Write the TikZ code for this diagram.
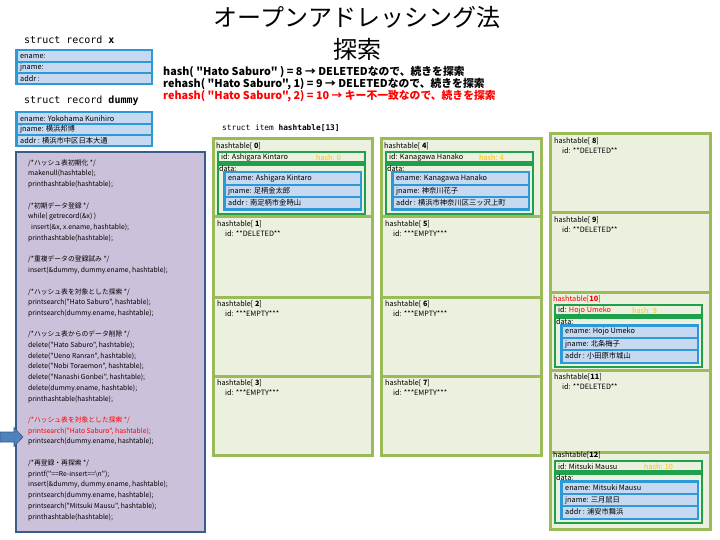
\documentclass[tikz,border=0pt]{standalone}
\usepackage{fontspec}
\setmainfont{Noto Sans CJK JP}[Ligatures=TeXOff]
\newfontfamily\monof{DejaVu Sans Mono}
\definecolor{cellfill}{HTML}{EBF1DE}
\definecolor{cellgreen}{HTML}{9BBB59}
\definecolor{dkgreen}{HTML}{1FA04C}
\definecolor{frameblue}{HTML}{2B9AD6}
\definecolor{rowblue}{HTML}{C6D9F1}
\definecolor{codefill}{HTML}{CCC1DA}
\definecolor{codeedge}{HTML}{3B5B8A}
\definecolor{gold}{HTML}{FFC000}
\definecolor{arrowblue}{HTML}{4F81BD}
\newcommand\occframe{%
 \draw[grbox] (5,0) rectangle (152,10.5);
 \draw[grbox] (5,12.5) rectangle (152,62);
 \draw[bluebox] (11,20) rectangle (148,58);
 \fill[rowblue] (12.5,21.5) rectangle (146.5,32.2);
 \fill[rowblue] (12.5,33.7) rectangle (146.5,44.3);
 \fill[rowblue] (12.5,45.8) rectangle (146.5,56.5);
}
\newcommand\cl[3][black]{\node[code,text=#1] (c#2) at (28,{163+#2*10.73}) {#3};}
\begin{document}
\begin{tikzpicture}[x=1pt,y=-1pt,
 txt/.style={anchor=west,inner sep=0pt,font=\fontsize{7.3}{9}\selectfont},
 code/.style={anchor=west,inner sep=0pt,font=\fontsize{6.8}{8}\selectfont},
 hl/.style={anchor=west,inner sep=0pt,font=\fontsize{10.8}{12}\selectfont\bfseries},
 cellbox/.style={fill=cellfill,draw=cellgreen,line width=3pt},
 grbox/.style={fill=cellfill,draw=dkgreen,line width=2.5pt},
 bluebox/.style={fill=frameblue,draw=frameblue,line width=2.5pt}]
\useasboundingbox[fill=white] (0,0) rectangle (720,540);

% title
\node[font=\fontsize{24}{28}\selectfont,inner sep=0pt] (title) at (357,17) {オープンアドレッシング法};
\node[font=\fontsize{24}{28}\selectfont,inner sep=0pt] (title2) at (357,49) {探索};

% struct record x
\node[anchor=west,inner sep=0pt,font=\monof\fontsize{10}{12}\selectfont] (srx) at (24,40) {struct record \textbf{x}};
\draw[bluebox] (16,50) rectangle (152,84);
\fill[rowblue] (17.5,51.3) rectangle (150.5,61.5);
\fill[rowblue] (17.5,63) rectangle (150.5,72.5);
\fill[rowblue] (17.5,74) rectangle (150.5,82.7);
\node[txt] (xe) at (20,56.4) {ename:};
\node[txt] (xj) at (20,67.8) {jname:};
\node[txt] (xa) at (20,78.4) {addr :};

% struct record dummy
\node[anchor=west,inner sep=0pt,font=\monof\fontsize{10}{12}\selectfont] (srd) at (24,101) {struct record \textbf{dummy}};
\draw[bluebox] (16,112) rectangle (152,146);
\fill[rowblue] (17.5,113.3) rectangle (150.5,123.5);
\fill[rowblue] (17.5,125) rectangle (150.5,134.5);
\fill[rowblue] (17.5,136) rectangle (150.5,144.7);
\node[txt] (de) at (20,118.4) {ename: Yokohama Kunihiro};
\node[txt] (dj) at (20,129.8) {jname: 横浜邦博};
\node[txt] (da) at (20,140.4) {addr : 横浜市中区日本大通};

% code box
\draw[fill=codefill,draw=codeedge,line width=2pt] (16,152) rectangle (205,532);
\cl{0}{/*ハッシュ表初期化 */}
\cl{1}{makenull(hashtable);}
\cl{2}{printhashtable(hashtable);}
\cl{4}{/*初期データ登録 */}
\cl{5}{while( getrecord(\&x) )}
\cl{6}{\hspace{3pt}insert(\&x, x.ename, hashtable);}
\cl{7}{printhashtable(hashtable);}
\cl{9}{/*重複データの登録試み */}
\cl{10}{insert(\&dummy, dummy.ename, hashtable);}
\cl{12}{/*ハッシュ表を対象とした探索 */}
\cl{13}{printsearch("Hato Saburo", hashtable);}
\cl{14}{printsearch(dummy.ename, hashtable);}
\cl{16}{/*ハッシュ表からのデータ削除 */}
\cl{17}{delete("Hato Saburo", hashtable);}
\cl{18}{delete("Ueno Ranran", hashtable);}
\cl{19}{delete("Nobi Toraemon", hashtable);}
\cl{20}{delete("Nanashi Gonbei", hashtable);}
\cl{21}{delete(dummy.ename, hashtable);}
\cl{22}{printhashtable(hashtable);}
\cl[red]{24}{/*ハッシュ表を対象とした探索 */}
\cl[red]{25}{printsearch("Hato Saburo", hashtable);}
\cl{26}{printsearch(dummy.ename, hashtable);}
\cl{28}{/*再登録・再探索 */}
\cl{29}{printf("==Re-insert==\textbackslash n");}
\cl{30}{insert(\&dummy, dummy.ename, hashtable);}
\cl{31}{printsearch(dummy.ename, hashtable);}
\cl{32}{printsearch("Mitsuki Mausu", hashtable);}
\cl{33}{printhashtable(hashtable);}

% arrow
\draw[fill=arrowblue,draw=codeedge,line width=0.6pt] (0,432) -- (14,432) -- (14,427.5) -- (23,437) -- (14,446.5) -- (14,442) -- (0,442) -- cycle;

% hash lines
\node[hl] (hl1) at (163,72) {hash( "Hato Saburo" ) = 8 → DELETEDなので、続きを探索};
\node[hl] (hl2) at (163,84) {rehash( "Hato Saburo", 1) = 9 → DELETEDなので、続きを探索};
\node[hl,text=red] (hl3) at (163,96) {rehash( "Hato Saburo", 2) = 10 → キー不一致なので、続きを探索};

\node[anchor=west,inner sep=0pt,font=\monof\fontsize{7.8}{9}\selectfont] (sih) at (222,128) {struct item \textbf{hashtable[13]}};

% cells column 1
\draw[cellbox] (213,139) rectangle (372,217);
\draw[cellbox] (213,217) rectangle (372,297);
\draw[cellbox] (213,297) rectangle (372,376);
\draw[cellbox] (213,376) rectangle (372,455);
% column 2
\draw[cellbox] (381,139) rectangle (541,217);
\draw[cellbox] (381,217) rectangle (541,297);
\draw[cellbox] (381,297) rectangle (541,376);
\draw[cellbox] (381,376) rectangle (541,455);
% column 3
\draw[cellbox] (550,134) rectangle (710,213);
\draw[cellbox] (550,213) rectangle (710,292);
\draw[cellbox] (550,292) rectangle (710,370);
\draw[cellbox] (550,370) rectangle (710,452);
\draw[cellbox] (550,452) rectangle (710,529);

% [0]
\begin{scope}[shift={(213,152)}]
\occframe
\node[txt] (h0hd) at (3,-6) {hashtable[ \textbf{0}]};
\node[txt] (h0id) at (8,5.25) {id: Ashigara Kintaro};
\node[txt,text=gold] (h0hs) at (103,5.25) {hash: 0};
\node[txt] (h0dt) at (6,16.3) {data:};
\node[txt] (h0en) at (15,26.9) {ename: Ashigara Kintaro};
\node[txt] (h0jn) at (15,39) {jname: 足柄金太郎};
\node[txt] (h0ad) at (15,51.1) {addr : 南足柄市金時山};
\end{scope}
% [4]
\begin{scope}[shift={(381,152)}]
\occframe
\node[txt] (h4hd) at (3,-6) {hashtable[ \textbf{4}]};
\node[txt] (h4id) at (8,5.25) {id: Kanagawa Hanako};
\node[txt,text=gold] (h4hs) at (98,5.25) {hash: 4};
\node[txt] (h4dt) at (6,16.3) {data:};
\node[txt] (h4en) at (15,26.9) {ename: Kanagawa Hanako};
\node[txt] (h4jn) at (15,39) {jname: 神奈川花子};
\node[txt] (h4ad) at (15,51.1) {addr : 横浜市神奈川区三ッ沢上町};
\end{scope}
% [10]
\begin{scope}[shift={(550,305)}]
\occframe
\node[txt,text=red] (h10hd) at (3,-6) {hashtable[\textbf{10}]};
\node[txt] (h10id) at (8,5.25) {id: \textcolor{red}{Hojo Umeko}};
\node[txt,text=gold] (h10hs) at (82,5.25) {hash: 9};
\node[txt] (h10dt) at (6,16.3) {data:};
\node[txt] (h10en) at (15,26.9) {ename: Hojo Umeko};
\node[txt] (h10jn) at (15,39) {jname: 北条梅子};
\node[txt] (h10ad) at (15,51.1) {addr : 小田原市城山};
\end{scope}
% [12]
\begin{scope}[shift={(550,461)}]
\occframe
\node[txt] (h12hd) at (3,-6) {hashtable[\textbf{12}]};
\node[txt] (h12id) at (8,5.25) {id: Mitsuki Mausu};
\node[txt,text=gold] (h12hs) at (94,5.25) {hash: 10};
\node[txt] (h12dt) at (6,16.3) {data:};
\node[txt] (h12en) at (15,26.9) {ename: Mitsuki Mausu};
\node[txt] (h12jn) at (15,39) {jname: 三月鼠日};
\node[txt] (h12ad) at (15,51.1) {addr : 浦安市舞浜};
\end{scope}

% empty / deleted cells
\node[txt] (h1hd) at (217,224) {hashtable[ \textbf{1}]};
\node[txt] (h1id) at (225,233.5) {id: **DELETED**};
\node[txt] (h2hd) at (217,304) {hashtable[ \textbf{2}]};
\node[txt] (h2id) at (225,313.5) {id: ***EMPTY***};
\node[txt] (h3hd) at (217,383) {hashtable[ \textbf{3}]};
\node[txt] (h3id) at (225,392.5) {id: ***EMPTY***};
\node[txt] (h5hd) at (385,224) {hashtable[ \textbf{5}]};
\node[txt] (h5id) at (393,233.5) {id: ***EMPTY***};
\node[txt] (h6hd) at (385,304) {hashtable[ \textbf{6}]};
\node[txt] (h6id) at (393,313.5) {id: ***EMPTY***};
\node[txt] (h7hd) at (385,383) {hashtable[ \textbf{7}]};
\node[txt] (h7id) at (393,392.5) {id: ***EMPTY***};
\node[txt] (h8hd) at (554,141) {hashtable[ \textbf{8}]};
\node[txt] (h8id) at (562,150.5) {id: **DELETED**};
\node[txt] (h9hd) at (554,220) {hashtable[ \textbf{9}]};
\node[txt] (h9id) at (562,229.5) {id: **DELETED**};
\node[txt] (h11hd) at (554,377) {hashtable[\textbf{11}]};
\node[txt] (h11id) at (562,386.5) {id: **DELETED**};
\end{tikzpicture}
\end{document}
